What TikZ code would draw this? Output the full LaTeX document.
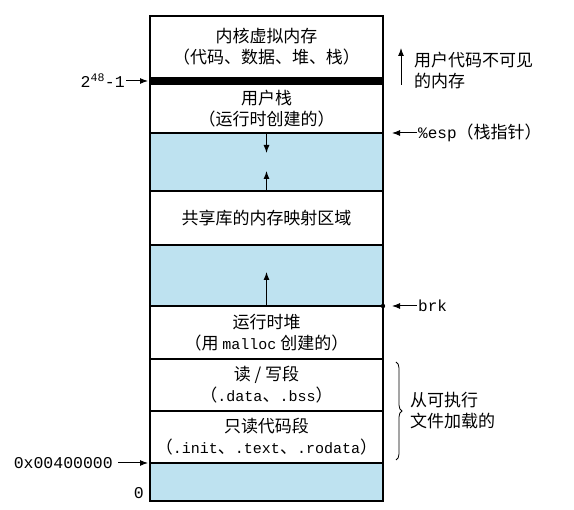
\documentclass[tikz,border=0pt]{standalone}
\usepackage{fontspec}
\setmainfont{Liberation Serif}
\setmonofont{Liberation Mono}
\newfontfamily\cjk{Noto Sans CJK SC}
\usetikzlibrary{positioning, arrows.meta, decorations.pathreplacing}
\definecolor{freeblue}{RGB}{190,226,240}
\newcommand{\mono}[1]{{\ttfamily\fontsize{15}{20}\selectfont #1}}
\tikzset{
  seg/.style={rectangle, draw, line width=1.5pt, minimum width=233pt, outer sep=0pt, inner sep=0pt, align=center, font=\cjk\fontsize{17}{21}\selectfont},
  gap/.style={seg, fill=freeblue},
  lbl/.style={inner sep=1pt, align=left, font=\cjk\fontsize{17}{21}\selectfont},
  addr/.style={lbl, font=\ttfamily\fontsize{16.5}{20}\selectfont},
  ptr/.style={-{Latex[length=8pt,width=6pt]}, line width=1pt},
}
\begin{document}
\begin{tikzpicture}[x=1pt,y=-1pt]
\useasboundingbox (0,0) rectangle (574,510);
%stack of segments
\node[seg, minimum height=62pt, anchor=north west] (kernel) at (150,16) {内核虚拟内存\\（代码、数据、堆、栈）};
\node[seg, minimum height=6pt, fill=black, below=0pt of kernel] (bar) {};
\node[seg, minimum height=49pt, below=0pt of bar] (ustack) {用户栈\\（运行时创建的）};
\node[gap, minimum height=58pt, below=0pt of ustack] (gap_stack) {};
\node[seg, minimum height=54pt, below=0pt of gap_stack] (shared) {共享库的内存映射区域};
\node[gap, minimum height=61pt, below=0pt of shared] (gap_heap) {};
\node[seg, minimum height=53pt, below=0pt of gap_heap] (heap) {运行时堆\\（用 \mono{malloc} 创建的）};
\node[seg, minimum height=52pt, below=0pt of heap] (rw) {读 / 写段\\（\mono{.data}、\mono{.bss}）};
\node[seg, minimum height=52pt, below=0pt of rw] (ro) {只读代码段\\（\mono{.init}、\mono{.text}、\mono{.rodata}）};
\node[gap, minimum height=38pt, below=0pt of ro] (gap_low) {};
%growth arrows
\draw[ptr] (ustack.south) -- ([yshift=-20pt]ustack.south);
\draw[ptr] (shared.north) -- ([yshift=20pt]shared.north);
\draw[ptr] (heap.north) -- ([yshift=34pt]heap.north);
%left addresses
\node[addr, anchor=east] (top_addr) at ([xshift=-24pt]bar.west) {2\textsuperscript{48}-1};
\draw[ptr] (top_addr.east) -- ([xshift=-2pt]bar.west);
\node[addr, anchor=east] (text_addr) at ([xshift=-36pt]gap_low.north west) {0x00400000};
\draw[ptr] ([xshift=4pt]text_addr.east) -- ([xshift=-2pt]gap_low.north west);
\node[addr, anchor=east] (zero) at ([xshift=-5pt,yshift=-30pt]gap_low.north west) {0};
%right side labels
\coordinate (hidden_lo) at ([xshift=18pt,yshift=-4pt]bar.east);
\coordinate (hidden_hi) at ([xshift=18pt,yshift=33pt]bar.east);
\draw[ptr] (hidden_lo) -- (hidden_hi);
\node[lbl, anchor=west] (hidden) at ([xshift=30pt,yshift=10pt]bar.east) {用户代码不可见\\的内存};
\node[lbl, anchor=west] (esp) at ([xshift=34pt]ustack.south east) {{\ttfamily\fontsize{16}{20}\selectfont\%esp}（栈指针）};
\draw[ptr] (esp.west) -- ([xshift=9pt]ustack.south east);
\fill (gap_heap.south east) circle (2.2pt);
\node[lbl, anchor=west] (brk) at ([xshift=34pt]gap_heap.south east) {{\ttfamily\fontsize{16}{20}\selectfont brk}};
\draw[ptr] (brk.west) -- ([xshift=9pt]gap_heap.south east);
\draw[line width=0.8pt, decorate, decoration={brace, amplitude=6pt}] ([xshift=13pt,yshift=-3pt]rw.north east) -- ([xshift=13pt,yshift=3pt]ro.south east);
\node[lbl, anchor=west] (loaded) at ([xshift=26pt]rw.south east) {从可执行\\文件加载的};
\end{tikzpicture}
\end{document}
